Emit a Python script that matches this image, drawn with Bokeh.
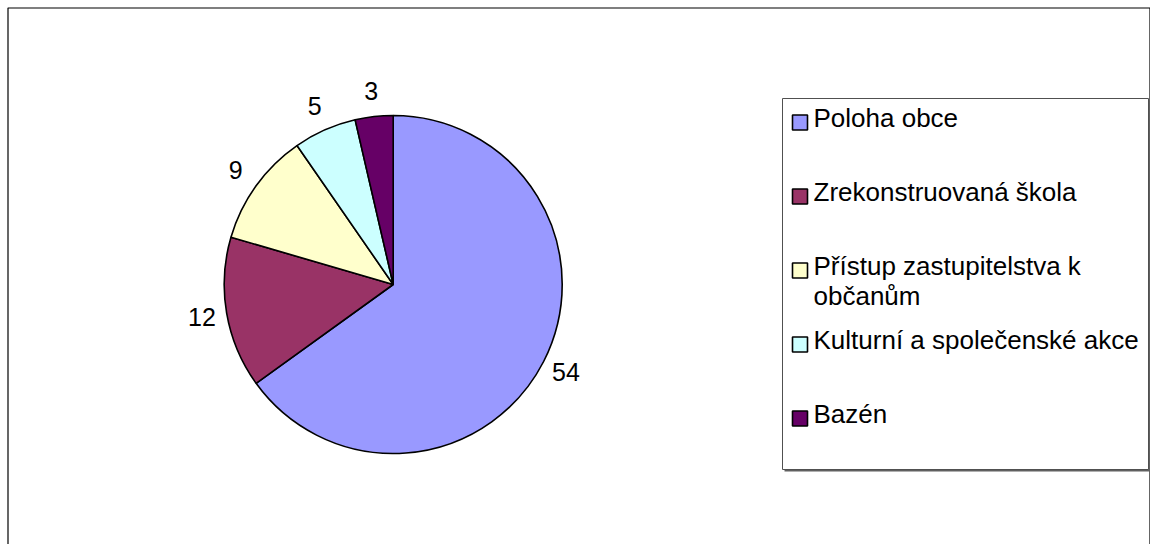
import numpy as np
from bokeh.plotting import figure
from bokeh.models import Range1d, ColumnDataSource
from bokeh.core.properties import value
from bokeh.embed import file_html
from bokeh.resources import INLINE

# ---- data ----
categories = ["Poloha obce", "Zrekonstruovaná škola", "Přístup zastupitelstva k\nobčanům",
              "Kulturní a společenské akce", "Bazén"]
counts = [54, 12, 9, 5, 3]
colors = ["#9999FF", "#993366", "#FFFFCC", "#CCFFFF", "#660066"]

# ---- layout ----
W, H = 1150, 544
FONT = value("Liberation Sans")
LABEL_FS = "25px"
LEGEND_FS = "26px"
TEXT_SHIFT = 9.5   # renderer places alphabetic baseline a little low


def Y(py):
    """convert a top-down pixel offset into the figure's y coordinate"""
    return H - py


p = figure(width=W, height=H, x_range=Range1d(0, W), y_range=Range1d(0, H),
           min_border=0, toolbar_location=None, output_backend="svg",
           outline_line_color=None, background_fill_color="white",
           border_fill_color="white")
p.axis.visible = False
p.xgrid.visible = False
p.ygrid.visible = False

# outer chart border (bottom edge runs off the page)
p.line([7.5, 7.5, W - 0.5, W - 0.5], [-20, Y(7.5), Y(7.5), -20],
       line_color="black", line_width=1.2)

# ---- pie ----
cx, cy, R = 392.7, Y(284.0), 169.0
vals = np.array(counts, dtype=float)
frac = vals / vals.sum()
theta_end = np.cumsum(frac) * 2 * np.pi          # clockwise from 12 o'clock
theta_start = theta_end - frac * 2 * np.pi
src = ColumnDataSource(dict(
    start=np.pi / 2 - theta_start,
    end=np.pi / 2 - theta_end,
    color=colors,
))
p.wedge(x=cx, y=cy, radius=R, start_angle="start", end_angle="end",
        direction="clock", fill_color="color", line_color="black",
        line_width=1.6, source=src)

# data labels
mid = (theta_start + theta_end) / 2
RL = 194.0
lx = cx + RL * np.sin(mid)
ly = cy + RL * np.cos(mid) - 8.8 + TEXT_SHIFT
p.text(x=lx, y=ly, text=[str(c) for c in counts], text_font=FONT,
       text_font_size=LABEL_FS, text_align="center", text_baseline="alphabetic",
       text_color="black")

# ---- legend ----
lx0, lx1, ly_top, ly_bot = 782, 1148, Y(98), Y(469)
p.quad(left=lx0 + 2, right=lx1 + 2, bottom=ly_bot - 2, top=ly_top - 2,
       fill_color="#606060", line_color=None)
p.quad(left=lx0, right=lx1, bottom=ly_bot, top=ly_top,
       fill_color="white", line_color="#505050", line_width=1)

base0 = 126.7
step = 74.0
sq_x, tx = 799.5, 813.0
txs, tys, tts = [], [], []
for i, lab in enumerate(categories):
    b = base0 + i * step
    for j, line in enumerate(lab.split("\n")):
        txs.append(tx)
        tys.append(Y(b + j * 30.7) + TEXT_SHIFT)
        tts.append(line)
sq_y = [Y(base0 + i * step - 4.7) for i in range(len(categories))]
p.rect(x=[sq_x] * len(categories), y=sq_y, width=15, height=15,
       fill_color=colors, line_color="black", line_width=1.6)
p.text(x=txs, y=tys, text=tts, text_font=FONT, text_font_size=LEGEND_FS,
       text_align="left", text_baseline="alphabetic", text_color="black")

open("out.html", "w").write(file_html(p, INLINE))
